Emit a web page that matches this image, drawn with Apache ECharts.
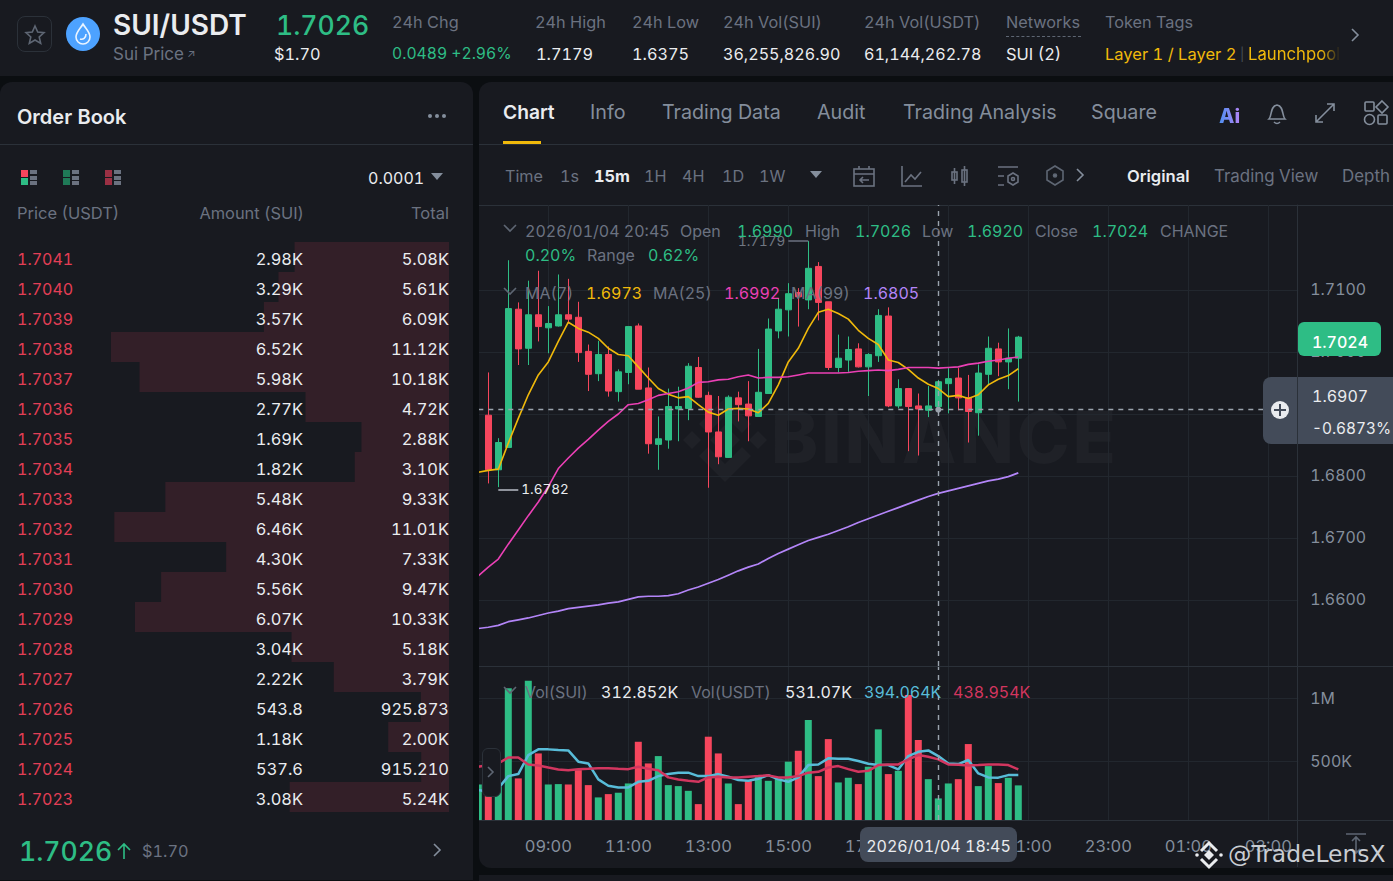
<!DOCTYPE html>
<html>
<head>
<meta charset="utf-8">
<title>SUI/USDT</title>
<script src="https://cdn.jsdelivr.net/npm/echarts@6/dist/echarts.min.js"></script>
<style>
html, body { margin: 0; padding: 0; width: 1393px; height: 881px; overflow: hidden; background: #0b0e11; }
body { font-family: Inter, "Noto Sans", sans-serif; font-variant-numeric: tabular-nums; }
#page { position: absolute; left: 0; top: 0; width: 1393px; height: 881px; overflow: hidden; }
.panel { position: absolute; background: #181a20; }
.line { position: absolute; background: #2b3139; }
.txt { position: absolute; white-space: nowrap; transform: translateY(-50%); line-height: 1; }
.txt.r { transform: translate(-100%, -50%); }
.txt.c { transform: translate(-50%, -50%); }
#chart { position: absolute; left: 0; top: 0; width: 1393px; height: 881px; z-index: 2; }
#chart text { font-variant-numeric: tabular-nums !important; }
#over { position: absolute; left: 0; top: 0; width: 1393px; height: 881px; z-index: 3; }
svg { position: absolute; overflow: visible; }
</style>
</head>
<body>
<div id="page">
	<div class="panel" style="left:0;top:0;width:1393px;height:76px"></div>
	<div class="panel" style="left:0;top:82px;width:473px;height:798px;border-radius:12px 12px 0 0"></div>
	<div class="panel" style="left:479px;top:82px;width:914px;height:786px;border-radius:12px 0 0 12px"></div>
	<div class="panel" style="left:479px;top:875px;width:914px;height:6px"></div>
	<div class="line" style="left:0;top:144px;width:473px;height:1px"></div>
	<div class="line" style="left:479px;top:144px;width:914px;height:1px"></div>
	<div class="line" style="left:479px;top:205px;width:914px;height:1px"></div>
	<div class="line" style="left:479px;top:666px;width:914px;height:1px"></div>
	<div class="line" style="left:479px;top:820px;width:914px;height:1px"></div>
	<div class="line" style="left:1297px;top:820px;width:1px;height:47px"></div>
	<div class="txt" style="left:771px;top:437px;font-size:71px;font-weight:800;letter-spacing:3px;color:#1f2127;z-index:1">BINANCE</div>
	<svg style="left:680px;top:395px;z-index:1" width="90" height="90" viewBox="0 0 90 90" fill="#1f2127">
		<polygon points="45,30 60,45 45,60 30,45"/>
		<polygon points="45,3 71,29 62,38 45,21 28,38 19,29"/>
		<polygon points="45,87 71,61 62,52 45,69 28,52 19,61"/>
		<polygon points="12,36 21,45 12,54 3,45"/>
		<polygon points="78,36 87,45 78,54 69,45"/>
	</svg>
	<div id="chart"></div>
	<div id="over"></div>
</div>
<script>
// 07:15 is the candle clipped at the left edge, the rest of the axis is empty future time
var categories = [
	"07:15", "07:30", "07:45", "08:00", "08:15", "08:30", "08:45", "09:00", "09:15", "09:30", "09:45", "10:00",
	"10:15", "10:30", "10:45", "11:00", "11:15", "11:30", "11:45", "12:00", "12:15", "12:30", "12:45", "13:00",
	"13:15", "13:30", "13:45", "14:00", "14:15", "14:30", "14:45", "15:00", "15:15", "15:30", "15:45", "16:00",
	"16:15", "16:30", "16:45", "17:00", "17:15", "17:30", "17:45", "18:00", "18:15", "18:30", "18:45", "19:00",
	"19:15", "19:30", "19:45", "20:00", "20:15", "20:30", "20:45", "21:00", "21:15", "21:30", "21:45", "22:00",
	"22:15", "22:30", "22:45", "23:00", "23:15", "23:30", "23:45", "00:00", "00:15", "00:30", "00:45", "01:00",
	"01:15", "01:30", "01:45", "02:00", "02:15", "02:30", "02:45", "03:00", "03:15", "03:30", "03:45"
];
var timeTicks = ["09:00", "11:00", "13:00", "15:00", "17:00", "19:00", "21:00", "23:00", "01:00", "03:00"];
var priceTicks = [1.66, 1.67, 1.68, 1.69, 1.70, 1.71];
var volTicks = [500, 1000];

var opens = [null, 1.6898, 1.6810, 1.6846, 1.7069, 1.7006, 1.7060, 1.7039, 1.7042, 1.7060, 1.7056, 1.7001, 1.6965, 1.6996, 1.6936, 1.6967, 1.7042, 1.6942, 1.6851, 1.6858, 1.6908, 1.6909, 1.6975, 1.6930, 1.6871, 1.6830, 1.6926, 1.6916, 1.6896, 1.6933, 1.7034, 1.7068, 1.7096, 1.7084, 1.7138, 1.7081, 1.6975, 1.6987, 1.7005, 1.6976, 1.6994, 1.7058, 1.6913, 1.6941, 1.6913, 1.6906, 1.6912, 1.6949, 1.6958, 1.6926, 1.6902, 1.6964, 1.7005, 1.6984, 1.6990];
var closes = [null, 1.6810, 1.6854, 1.7070, 1.7005, 1.7060, 1.7041, 1.7046, 1.7060, 1.7053, 1.6999, 1.6964, 1.6996, 1.6937, 1.6968, 1.7041, 1.6940, 1.6852, 1.6860, 1.6912, 1.6912, 1.6977, 1.6927, 1.6871, 1.6831, 1.6927, 1.6915, 1.6897, 1.6935, 1.7037, 1.7069, 1.7094, 1.7089, 1.7135, 1.7080, 1.6975, 1.6990, 1.7004, 1.6976, 1.6996, 1.7059, 1.6913, 1.6941, 1.6912, 1.6908, 1.6913, 1.6952, 1.6957, 1.6926, 1.6904, 1.6966, 1.7006, 1.6984, 1.6990, 1.7024];
var lows = [null, 1.6788, 1.6782, 1.6846, 1.6979, 1.6979, 1.7017, 1.6998, 1.7041, 1.7046, 1.6984, 1.6937, 1.6953, 1.6928, 1.6920, 1.6948, 1.6940, 1.6836, 1.6810, 1.6844, 1.6856, 1.6890, 1.6926, 1.6781, 1.6819, 1.6829, 1.6888, 1.6856, 1.6896, 1.6933, 1.7022, 1.7025, 1.7041, 1.7069, 1.7051, 1.6971, 1.6967, 1.6968, 1.6975, 1.6929, 1.6984, 1.6911, 1.6909, 1.6840, 1.6833, 1.6895, 1.6906, 1.6901, 1.6906, 1.6854, 1.6865, 1.6948, 1.6961, 1.6940, 1.6920];
var highs = [null, 1.6967, 1.6861, 1.7148, 1.7080, 1.7115, 1.7131, 1.7074, 1.7125, 1.7118, 1.7081, 1.7012, 1.7018, 1.7009, 1.6972, 1.7041, 1.7046, 1.6975, 1.6896, 1.6941, 1.6944, 1.6982, 1.6992, 1.6936, 1.6929, 1.6930, 1.6936, 1.6953, 1.7005, 1.7054, 1.7087, 1.7111, 1.7103, 1.7179, 1.7145, 1.7081, 1.7028, 1.7025, 1.7014, 1.6998, 1.7069, 1.7072, 1.6956, 1.6941, 1.6933, 1.6945, 1.6955, 1.6974, 1.6974, 1.6963, 1.6980, 1.7025, 1.7015, 1.7038, 1.7026];

var ma7 = [1.6806, 1.6809, 1.6811, 1.6853, 1.6893, 1.6931, 1.6963, 1.6984, 1.7017, 1.7048, 1.7038, 1.7032, 1.7022, 1.7006, 1.6996, 1.6994, 1.6976, 1.6958, 1.6941, 1.6932, 1.6926, 1.6928, 1.6915, 1.6903, 1.6898, 1.6908, 1.6909, 1.6908, 1.6902, 1.6917, 1.6947, 1.6984, 1.7006, 1.7038, 1.7064, 1.7069, 1.7062, 1.7053, 1.7035, 1.7022, 1.7012, 1.6987, 1.6983, 1.6972, 1.6958, 1.6948, 1.6941, 1.6928, 1.6930, 1.6925, 1.6931, 1.6947, 1.6956, 1.6962, 1.6973];
var ma25 = [1.6639, 1.6653, 1.6666, 1.6690, 1.6713, 1.6736, 1.6758, 1.6783, 1.6812, 1.6829, 1.6845, 1.6859, 1.6874, 1.6888, 1.6900, 1.6915, 1.6917, 1.6923, 1.6930, 1.6933, 1.6936, 1.6942, 1.6951, 1.6952, 1.6955, 1.6956, 1.6960, 1.6963, 1.6958, 1.6959, 1.6959, 1.6960, 1.6963, 1.6966, 1.6966, 1.6966, 1.6966, 1.6967, 1.6969, 1.6970, 1.6971, 1.6970, 1.6972, 1.6975, 1.6975, 1.6975, 1.6974, 1.6975, 1.6976, 1.6980, 1.6982, 1.6985, 1.6987, 1.6990, 1.6992];
var ma99 = [1.6554, 1.6556, 1.6559, 1.6565, 1.6568, 1.6571, 1.6575, 1.6579, 1.6582, 1.6586, 1.6588, 1.6590, 1.6592, 1.6595, 1.6597, 1.6601, 1.6605, 1.6606, 1.6606, 1.6607, 1.6610, 1.6616, 1.6621, 1.6627, 1.6633, 1.6640, 1.6647, 1.6653, 1.6658, 1.6667, 1.6675, 1.6682, 1.6689, 1.6696, 1.6701, 1.6706, 1.6712, 1.6718, 1.6725, 1.6731, 1.6737, 1.6743, 1.6749, 1.6755, 1.6761, 1.6767, 1.6772, 1.6776, 1.6780, 1.6784, 1.6788, 1.6792, 1.6795, 1.6799, 1.6805];

// volumes in thousands of SUI
var volumes = [320, 228, 302, 1079, 368, 1139, 565, 320, 323, 320, 433, 315, 218, 244, 255, 328, 657, 486, 544, 315, 307, 270, 165, 697, 565, 328, 165, 355, 381, 349, 368, 500, 586, 829, 386, 678, 336, 373, 323, 460, 755, 402, 428, 1026, 671, 362, 210, 328, 362, 639, 307, 465, 331, 373, 312.852];
var volMaShort = [276, 262, 289, 386, 402, 552, 597, 597, 592, 589, 500, 486, 360, 310, 297, 297, 341, 349, 386, 402, 413, 413, 386, 386, 402, 381, 355, 349, 365, 394, 360, 341, 376, 473, 478, 526, 523, 523, 505, 484, 473, 473, 439, 544, 578, 589, 544, 486, 481, 513, 407, 376, 374, 394, 394.064];
var volMaLong = [460, 473, 486, 533, 533, 478, 470, 454, 439, 433, 441, 444, 449, 449, 444, 441, 460, 444, 433, 376, 360, 349, 341, 376, 381, 376, 376, 381, 386, 392, 376, 376, 386, 413, 420, 454, 465, 441, 420, 428, 473, 478, 478, 518, 552, 539, 518, 478, 476, 470, 473, 478, 478, 473, 438.954];

var bookPrices = ["1.7041", "1.7040", "1.7039", "1.7038", "1.7037", "1.7036", "1.7035", "1.7034", "1.7033", "1.7032", "1.7031", "1.7030", "1.7029", "1.7028", "1.7027", "1.7026", "1.7025", "1.7024", "1.7023"];
var bookAmounts = ["2.98K", "3.29K", "3.57K", "6.52K", "5.98K", "2.77K", "1.69K", "1.82K", "5.48K", "6.46K", "4.30K", "5.56K", "6.07K", "3.04K", "2.22K", "543.8", "1.18K", "537.6", "3.08K"];
var bookTotals = ["5.08K", "5.61K", "6.09K", "11.12K", "10.18K", "4.72K", "2.88K", "3.10K", "9.33K", "11.01K", "7.33K", "9.47K", "10.33K", "5.18K", "3.79K", "925.873", "2.00K", "915.210", "5.24K"];
var bookDepth = [5.08, 5.61, 6.09, 11.12, 10.18, 4.72, 2.88, 3.10, 9.33, 11.01, 7.33, 9.47, 10.33, 5.18, 3.79, 0.925873, 2.00, 0.91521, 5.24];

var UP = "#2ebd85", DOWN = "#f6465d", GREY = "#848e9c", WHITE = "#eaecef", GOLD = "#f0b90b", PINK = "#eb40b5", PURPLE = "#b385f8";
var FAINT = "#22272e", AXIS = "#2b3139", FONT = "Inter";

var candles = [];
for (var i = 0; i < opens.length; i++) {
	candles.push(opens[i] === null ? "-" : [opens[i], closes[i], lows[i], highs[i]]);
}
var volBars = [];
for (var j = 0; j < volumes.length; j++) {
	volBars.push({
		value: volumes[j],
		itemStyle: { color: opens[j] === null || closes[j] >= opens[j] ? UP : DOWN }
	});
}

function isTimeTick(index, value) {
	return timeTicks.indexOf(value) >= 0;
}
function maLine(name, data, color, width, xi, yi) {
	return {
		name: name,
		type: "line",
		data: data,
		xAxisIndex: xi,
		yAxisIndex: yi,
		symbol: "none",
		z: 4,
		lineStyle: { color: color, width: width }
	};
}
var crossStyle = { color: "#9aa3ad", type: [5, 5], width: 1.4 };

// svg renderer so the axis text can take tabular digits from the stylesheet
var chart = echarts.init(document.getElementById("chart"), null, { renderer: "svg" });
chart.setOption({
	animation: false,
	backgroundColor: "transparent",
	// grid left/right put one category every 10px with 09:00 at x=548.3
	grid: [
		{ left: 478.3, right: 94.7, top: 205, height: 461 },
		{ left: 478.3, right: 94.7, top: 667, height: 153 },
		{ left: 0, right: 944, top: 242, height: 570 }
	],
	xAxis: [{
		type: "category",
		gridIndex: 0,
		data: categories,
		boundaryGap: false,
		axisLine: { show: false },
		axisTick: { show: false },
		axisLabel: { show: false },
		splitLine: { show: true, interval: isTimeTick, lineStyle: { color: FAINT } }
	}, {
		type: "category",
		gridIndex: 1,
		data: categories,
		boundaryGap: false,
		axisLine: { show: false },
		axisTick: { show: false },
		axisLabel: {
			interval: isTimeTick,
			color: GREY,
			fontFamily: FONT,
			fontSize: 16.5,
			margin: 17
		},
		splitLine: { show: true, interval: isTimeTick, lineStyle: { color: FAINT } }
	}, {
		type: "value",
		gridIndex: 2,
		inverse: true,
		min: 0,
		max: 14.77,
		show: false
	}],
	yAxis: [{
		type: "value",
		gridIndex: 0,
		position: "right",
		offset: -1,
		min: 1.64935,
		max: 1.72371,
		axisLine: { show: true, lineStyle: { color: AXIS } },
		axisTick: { show: false, customValues: priceTicks },
		axisLabel: {
			customValues: priceTicks,
			color: GREY,
			fontFamily: FONT,
			fontSize: 15.9,
			margin: 13,
			formatter: function(v) { return v.toFixed(4); }
		},
		splitLine: { show: true, lineStyle: { color: FAINT } }
	}, {
		type: "value",
		gridIndex: 1,
		position: "right",
		offset: -1,
		min: 39.7,
		max: 1247,
		axisLine: { show: true, lineStyle: { color: AXIS } },
		axisTick: { show: false, customValues: volTicks },
		axisLabel: {
			customValues: volTicks,
			color: GREY,
			fontFamily: FONT,
			fontSize: 15.9,
			margin: 13,
			formatter: function(v) { return v >= 1000 ? v / 1000 + "M" : v + "K"; }
		},
		splitLine: { show: true, lineStyle: { color: FAINT } }
	}, {
		type: "category",
		gridIndex: 2,
		inverse: true,
		data: bookPrices,
		show: false
	}],
	series: [{
		name: "Depth",
		type: "bar",
		xAxisIndex: 2,
		yAxisIndex: 2,
		data: bookDepth,
		barWidth: 30,
		itemStyle: { color: "#331f28" }
	}, {
		name: "SUI/USDT",
		type: "candlestick",
		xAxisIndex: 0,
		yAxisIndex: 0,
		data: candles,
		barWidth: 7,
		itemStyle: { color: UP, color0: DOWN, borderColor: UP, borderColor0: DOWN, borderWidth: 1 },
		markLine: {
			silent: true,
			symbol: "none",
			animation: false,
			precision: 4,
			data: [
				{ yAxis: 1.6907, lineStyle: crossStyle, label: { show: false } },
				{ xAxis: "18:45", lineStyle: crossStyle, label: { show: false } },
				[{
					coord: ["07:45", 1.6778],
					lineStyle: { color: "#b7bdc6", type: "solid", width: 1.5 },
					label: { position: "end", formatter: "1.6782", color: WHITE, fontFamily: FONT, fontSize: 13.5, distance: 3, offset: [0, -1] }
				}, { coord: ["08:15", 1.6778] }],
				[{
					coord: ["15:30", 1.7179],
					lineStyle: { color: "#6b7280", type: "solid", width: 1.5 },
					label: { position: "end", formatter: "1.7179", color: "#707782", fontFamily: FONT, fontSize: 13.5, distance: 3 }
				}, { coord: ["15:00", 1.7179] }]
			]
		},
		markPoint: {
			silent: true,
			animation: false,
			symbol: "circle",
			symbolSize: 6,
			itemStyle: { color: "#9aa3ad" },
			label: { show: false },
			data: [{ coord: ["18:45", 1.6907] }]
		}
	},
	maLine("MA(7)", ma7, GOLD, 1.6, 0, 0),
	maLine("MA(25)", ma25, PINK, 1.6, 0, 0),
	maLine("MA(99)", ma99, PURPLE, 1.7, 0, 0),
	{
		name: "Vol(SUI)",
		type: "bar",
		xAxisIndex: 1,
		yAxisIndex: 1,
		data: volBars,
		barWidth: 7,
		clip: true,
		markLine: {
			silent: true,
			symbol: "none",
			animation: false,
			data: [{ xAxis: "18:45", lineStyle: crossStyle, label: { show: false } }]
		}
	},
	maLine("Vol MA short", volMaShort, "#58bcd8", 2.5, 1, 1),
	maLine("Vol MA long", volMaLong, "#d2365f", 2.5, 1, 1)]
});

// page furniture around the chart, all plain text
var over = document.getElementById("over");
function put(text, x, y, size, color, weight, cls) {
	var d = document.createElement("div");
	d.className = "txt" + (cls ? " " + cls : "");
	d.style.left = x + "px";
	d.style.top = y + "px";
	d.style.fontSize = size + "px";
	d.style.color = color;
	if (weight) d.style.fontWeight = weight;
	d.textContent = text;
	over.appendChild(d);
	return d;
}
function box(x, y, w, h, color, radius) {
	var d = document.createElement("div");
	d.style.cssText = "position:absolute;left:" + x + "px;top:" + y + "px;width:" + w + "px;height:" + h + "px;background:" + color + ";border-radius:" + (radius || "0");
	over.appendChild(d);
	return d;
}
function icon(x, y, w, h, inner, stroke) {
	over.insertAdjacentHTML("beforeend", '<svg style="left:' + x + "px;top:" + y + 'px" width="' + w + '" height="' + h + '" fill="none" stroke="' + (stroke || GREY) + '" stroke-width="1.6">' + inner + "</svg>");
}

// gap between the two panels, hides what the clipped first candle leaves there
box(473, 82, 6, 786, "#0b0e11");

// header strip
var star = box(17, 16, 33, 34, "transparent", "8px");
star.style.border = "1px solid #2b3139";
icon(25, 25, 20, 20, '<polygon points="10,1 12.7,7 19,7.6 14.2,12 15.7,18.4 10,15 4.3,18.4 5.8,12 1,7.6 7.3,7"/>', "#5e6673");
box(66, 17, 34, 34, "#4da2ff", "50%");
icon(74, 23, 18, 22, '<path d="M9 1 C12 6 16 9 16 14 A7 7 0 0 1 2 14 C2 9 6 6 9 1 Z M6 16 C9 17 12 15 12 11"/>', "#eaf4ff");
put("SUI/USDT", 113, 25, 28, WHITE, 600);
put("Sui Price", 113, 54, 17, "#6b7280");
put("↗", 187, 54, 11, "#6b7280");
put("1.7026", 276, 25, 26.6, UP, 500);
put("$1.70", 274, 54, 16.3, WHITE);
var stats = [
	["24h Chg", 392, "0.0489 +2.96%", UP, 15.7],
	["24h High", 535, "1.7179", WHITE, 16.3],
	["24h Low", 632, "1.6375", WHITE, 16.3],
	["24h Vol(SUI)", 723, "36,255,826.90", WHITE, 16.1],
	["24h Vol(USDT)", 864, "61,144,262.78", WHITE, 16.1],
	["Networks", 1006, "SUI (2)", WHITE, 16.5]
];
stats.forEach(function(s) {
	put(s[0], s[1], 22, 16.3, "#6b7280");
	put(s[2], s[1] + (s[0] === "24h High" ? 1 : 0), 54, s[4], s[3]);
});
box(1006, 36, 75, 1, "transparent").style.borderTop = "1px dashed #5e6673";
put("Token Tags", 1105, 22, 16.3, "#6b7280");
put("Layer 1 / Layer 2", 1105, 54, 16.5, GOLD);
put("|", 1240, 54, 13, "#474d57");
put("Launchpool", 1248, 54, 16.7, GOLD).style.cssText += ";-webkit-mask-image:linear-gradient(90deg,#000 80%,transparent)";
icon(1350, 28, 10, 14, '<path d="M2 1 L8 7 L2 13"/>', GREY);

// order book
put("Order Book", 17, 117, 20, WHITE, 600);
box(428, 114, 4, 4, GREY, "50%");
box(435, 114, 4, 4, GREY, "50%");
box(442, 114, 4, 4, GREY, "50%");
function bookIcon(x, a, b) {
	box(x, 170, 7, 7, a);
	box(x, 178, 7, 7, b);
	box(x + 9, 170, 7, 4, "#6b7280");
	box(x + 9, 175.5, 7, 4, "#6b7280");
	box(x + 9, 181, 7, 4, "#6b7280");
}
bookIcon(21, DOWN, UP);
bookIcon(63, "#1f7a57", "#1f7a57");
bookIcon(105, "#9b3044", "#9b3044");
put("0.0001", 368, 178, 16, WHITE);
icon(431, 173, 12, 8, '<polygon points="0,0 12,0 6,7" fill="#848e9c" stroke="none"/>');
put("Price (USDT)", 17, 213, 16.5, "#6b7280");
put("Amount (SUI)", 304, 213, 16.4, "#6b7280", 0, "r");
put("Total", 449, 213, 16.5, "#6b7280", 0, "r");
for (var r = 0; r < bookPrices.length; r++) {
	put(bookPrices[r], 17, 259 + r * 30, 16, "#e33e55");
	put(bookAmounts[r], 303, 259 + r * 30, 16.4, WHITE, 0, "r");
	put(bookTotals[r], 449, 259 + r * 30, 16.4, WHITE, 0, "r");
}
put("1.7026", 19, 851, 26.6, UP, 500);
icon(117, 842, 14, 18, '<path d="M7 17 L7 2 M1 8 L7 2 L13 8"/>', UP);
put("$1.70", 142, 851, 16.3, "#6b7280");
icon(432, 843, 10, 14, '<path d="M2 1 L8 7 L2 13"/>', GREY);

// tab row
put("Chart", 503, 113, 19.2, WHITE, 600);
box(503, 141, 38, 3, GOLD);
[["Info", 590], ["Trading Data", 662], ["Audit", 817], ["Trading Analysis", 903], ["Square", 1091]].forEach(function(t) {
	put(t[0], t[1], 113, 19.7, GREY);
});
var ai = put("Ai", 1219, 116, 20, "#5b8def", 800);
ai.style.background = "linear-gradient(90deg,#4d8ff0,#b385f8)";
ai.style.webkitBackgroundClip = "text";
ai.style.color = "transparent";
icon(1267, 103, 20, 22, '<path d="M2 16 C5 13 3 3 10 2 C17 3 15 13 18 16 Z M7 19 Q10 22 13 19"/>');
icon(1315, 103, 20, 20, '<path d="M1 19 L19 1 M12 1 L19 1 L19 8 M1 12 L1 19 L8 19"/>');
icon(1364, 101, 24, 24, '<rect x="1" y="1" width="9" height="9" rx="1"/><path d="M18 0 L24 6 L18 12 L12 6 Z"/><circle cx="5.5" cy="18.5" r="5"/><rect x="14" y="14" width="9" height="9" rx="1"/>');

// interval toolbar
[["Time", 505], ["1s", 560], ["1H", 644], ["4H", 682], ["1D", 722], ["1W", 759]].forEach(function(t) {
	put(t[0], t[1], 176, 16.2, "#6b7280");
});
put("15m", 594, 176, 16.3, WHITE, 700);
icon(810, 171, 12, 8, '<polygon points="0,0 12,0 6,7" fill="#848e9c" stroke="none"/>');
icon(853, 165, 22, 22, '<rect x="1" y="4" width="20" height="17"/><path d="M1 9 L21 9 M6 1 L6 4 M16 1 L16 4 M16 15 L7 15 M10 12 L7 15 L10 18"/>', "#6b7280");
icon(901, 165, 22, 22, '<path d="M1 1 L1 21 L21 21 M4 17 L10 10 L14 14 L20 7"/>', "#6b7280");
icon(950, 165, 20, 22, '<rect x="2" y="7" width="5" height="8"/><rect x="12" y="5" width="5" height="12"/><path d="M4.5 3 L4.5 19 M14.5 1 L14.5 21"/>', "#6b7280");
icon(997, 165, 22, 22, '<path d="M1 2 L21 2 M1 11 L7 11 M1 20 L7 20 M16 8 L21 11 L21 17 L16 20 L11 17 L11 11 Z"/><circle cx="16" cy="14" r="1.5"/>', "#6b7280");
icon(1046, 165, 18, 21, '<path d="M9 1 L17 6 L17 15 L9 20 L1 15 L1 6 Z"/><circle cx="9" cy="10.5" r="1.5" fill="#6b7280"/>', "#5e6673");
icon(1075, 168, 10, 14, '<path d="M2 1 L8 7 L2 13"/>');
put("Original", 1127, 176, 16.6, WHITE, 600);
put("Trading View", 1214, 176, 16.9, "#6b7280");
put("Depth", 1342, 176, 16.9, "#6b7280");

// chart legends
function chevron(y) {
	icon(503, y - 5, 14, 9, '<path d="M1 1 L7 7 L13 1"/>', "#5e6673");
}
var LEG = "#6b7280";
chevron(229);
[["2026/01/04 20:45", 525, LEG], ["Open", 680, LEG], ["1.6990", 737, UP], ["High", 805, LEG], ["1.7026", 855, UP],
	["Low", 922, LEG], ["1.6920", 967, UP], ["Close", 1035, LEG], ["1.7024", 1092, UP], ["CHANGE", 1160, LEG]].forEach(function(t) {
	put(t[0], t[1], 231, 16, t[2]);
});
[["0.20%", 525, UP], ["Range", 587, LEG], ["0.62%", 648, UP]].forEach(function(t) {
	put(t[0], t[1], 255, 16, t[2]);
});
chevron(292);
[["MA(7)", 525, LEG], ["1.6973", 586, GOLD], ["MA(25)", 653, LEG], ["1.6992", 724, PINK], ["MA(99)", 791, LEG], ["1.6805", 863, PURPLE]].forEach(function(t) {
	put(t[0], t[1], 293, 16, t[2]);
});
chevron(691);
[["Vol(SUI)", 525, LEG], ["312.852K", 601, WHITE], ["Vol(USDT)", 691, LEG], ["531.07K", 785, WHITE], ["394.064K", 864, "#58bcd8"], ["438.954K", 953, "#d2365f"]].forEach(function(t) {
	put(t[0], t[1], 692, 16, t[2]);
});

// scroll handle, price tags, crosshair tags
var handle = box(482, 748, 17, 47, "#181a20", "6px");
handle.style.border = "1px solid #2b3139";
icon(487, 766, 8, 12, '<path d="M1 1 L6 6 L1 11"/>', "#5e6673");
box(1298, 322, 83, 34, UP, "6px");
put("1.7024", 1340, 342, 16, "#ffffff", 500, "c");
box(1263, 377, 130, 67, "#434b59", "8px 0 0 8px");
box(1297, 377, 1, 67, "#2b3139");
box(1271, 401, 18, 18, "#eaecef", "50%");
box(1274, 409, 12, 2.4, "#434b59");
box(1278.8, 404, 2.4, 12, "#434b59");
put("1.6907", 1312, 396, 16, WHITE);
put("-0.6873%", 1312, 429, 15.4, WHITE);
box(860, 827, 157, 35, "#434b59", "8px");
put("2026/01/04 18:45", 938.5, 846, 16, WHITE, 0, "c");
icon(1345, 833, 21, 24, '<path d="M1 1 L21 1 M11 5 L11 20 M7 8 L11 4 L15 8 M7 16 L11 20 L15 16"/>', "#5e6673");

// screenshot watermark
icon(1195, 841, 28, 28, '<polygon points="14,9 19,14 14,19 9,14" fill="#eaecef" stroke="none"/><path d="M6 10 L14 2 L22 10 M6 18 L14 26 L22 18" stroke="#eaecef" stroke-width="3"/><circle cx="2" cy="14" r="1.8" fill="#eaecef" stroke="none"/><circle cx="26" cy="14" r="1.8" fill="#eaecef" stroke="none"/>', "#eaecef");
var mark = put("@TradeLensX", 1228, 855, 23.4, "#c9cdd3");
mark.style.fontFamily = '"DejaVu Sans"';
</script>
</body>
</html>
